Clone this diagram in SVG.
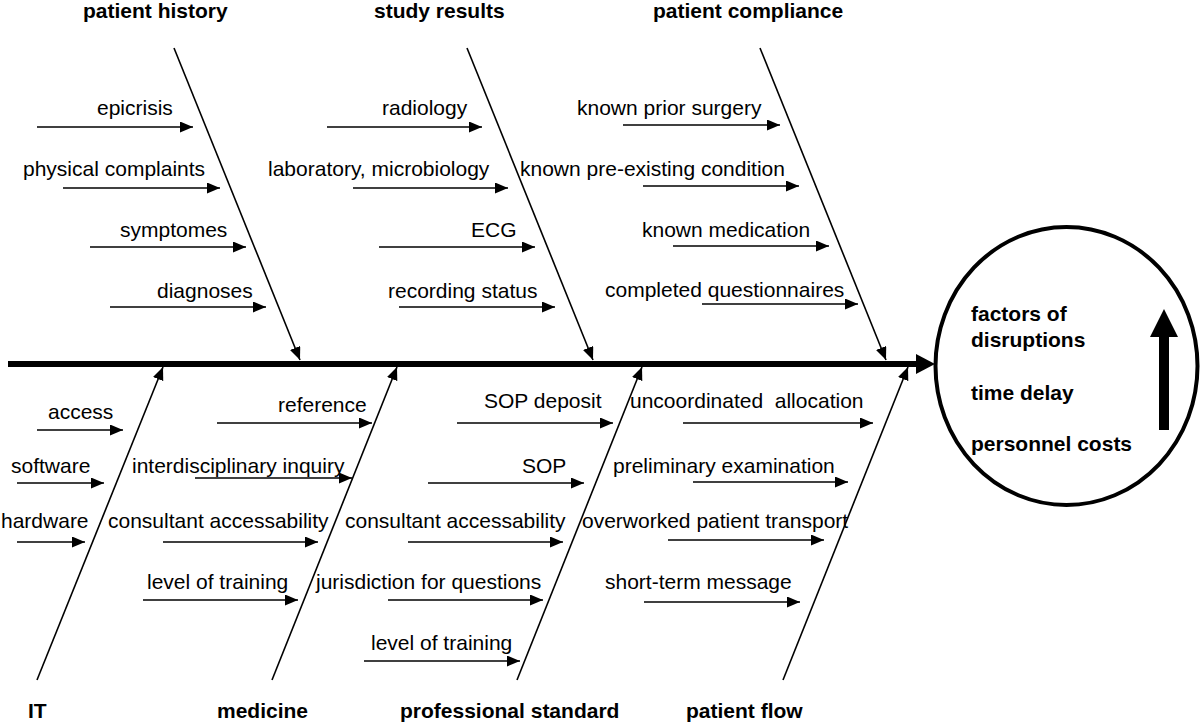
<svg xmlns="http://www.w3.org/2000/svg" width="1200" height="724" viewBox="0 0 1200 724">
<style>
  .t { font-family: "Liberation Sans", Arial, sans-serif; font-size: 21px; fill: #000; }
  .b { font-family: "Liberation Sans", Arial, sans-serif; font-size: 21px; font-weight: bold; fill: #000; }
  .ln { stroke: #000; stroke-width: 1.6; fill: none; marker-end: url(#ah); }
  .pre { white-space: pre; }
</style>
<defs>
  <marker id="ah" markerUnits="userSpaceOnUse" markerWidth="14" markerHeight="12" refX="13" refY="5.5" orient="auto">
    <path d="M0,0 L13,5.5 L0,11 z" fill="#000"/>
  </marker>
</defs>
<rect width="1200" height="724" fill="#fff"/>

<g id="connectors">
  <!-- spine -->
  <line x1="8" y1="364" x2="918" y2="364" stroke="#000" stroke-width="6"/>
  <polygon points="916,354 935,364 916,374" fill="#000"/>
  <!-- top bones -->
  <line class="ln" x1="174" y1="48" x2="300" y2="360"/>
  <line class="ln" x1="467" y1="48" x2="593" y2="360"/>
  <line class="ln" x1="760" y1="48" x2="886" y2="360"/>
  <!-- bottom bones -->
  <line class="ln" x1="37" y1="680" x2="163" y2="367"/>
  <line class="ln" x1="272" y1="680" x2="397" y2="367"/>
  <line class="ln" x1="517" y1="680" x2="642" y2="367"/>
  <line class="ln" x1="783" y1="680" x2="908" y2="367"/>
  <!-- patient history -->
  <line class="ln" x1="37" y1="127" x2="193" y2="127"/>
  <line class="ln" x1="63" y1="188" x2="220" y2="188"/>
  <line class="ln" x1="90" y1="247" x2="246" y2="247"/>
  <line class="ln" x1="110" y1="307" x2="266" y2="307"/>
  <!-- study results -->
  <line class="ln" x1="327" y1="127" x2="482" y2="127"/>
  <line class="ln" x1="353" y1="188" x2="508" y2="188"/>
  <line class="ln" x1="379" y1="247" x2="535" y2="247"/>
  <line class="ln" x1="399" y1="307" x2="555" y2="307"/>
  <!-- patient compliance -->
  <line class="ln" x1="623" y1="125" x2="780" y2="125"/>
  <line class="ln" x1="643" y1="186" x2="799" y2="186"/>
  <line class="ln" x1="673" y1="246" x2="829" y2="246"/>
  <line class="ln" x1="702" y1="304" x2="858" y2="304"/>
  <!-- IT -->
  <line class="ln" x1="37" y1="430" x2="123" y2="430"/>
  <line class="ln" x1="17" y1="483" x2="104" y2="483"/>
  <line class="ln" x1="17" y1="542" x2="85" y2="542"/>
  <!-- medicine -->
  <line class="ln" x1="217" y1="423" x2="372" y2="423"/>
  <line class="ln" x1="195" y1="478" x2="352" y2="478"/>
  <line class="ln" x1="163" y1="542" x2="318" y2="542"/>
  <line class="ln" x1="143" y1="600" x2="298" y2="600"/>
  <!-- professional standard -->
  <line class="ln" x1="457" y1="423" x2="613" y2="423"/>
  <line class="ln" x1="428" y1="483" x2="584" y2="483"/>
  <line class="ln" x1="408" y1="542" x2="563" y2="542"/>
  <line class="ln" x1="388" y1="600" x2="543" y2="600"/>
  <line class="ln" x1="364" y1="661" x2="520" y2="661"/>
  <!-- patient flow -->
  <line class="ln" x1="683" y1="423" x2="873" y2="423"/>
  <line class="ln" x1="693" y1="482" x2="848" y2="482"/>
  <line class="ln" x1="668" y1="540" x2="824" y2="540"/>
  <line class="ln" x1="644" y1="602" x2="800" y2="602"/>
</g>

<g id="patient-history">
  <text class="b" x="83" y="18">patient history</text>
  <text class="t" x="97" y="115">epicrisis</text>
  <text class="t" x="23" y="176">physical complaints</text>
  <text class="t" x="120" y="237">symptomes</text>
  <text class="t" x="157" y="298">diagnoses</text>
</g>
<g id="study-results">
  <text class="b" x="374" y="18">study results</text>
  <text class="t" x="382" y="115">radiology</text>
  <text class="t" x="268" y="176">laboratory, microbiology</text>
  <text class="t" x="471" y="237">ECG</text>
  <text class="t" x="388" y="298">recording status</text>
</g>
<g id="patient-compliance">
  <text class="b" x="653" y="18">patient compliance</text>
  <text class="t" x="577" y="115">known prior surgery</text>
  <text class="t" x="520" y="176">known pre-existing condition</text>
  <text class="t" x="642" y="237">known medication</text>
  <text class="t" x="605" y="297">completed questionnaires</text>
</g>
<g id="it">
  <text class="b" x="28" y="718">IT</text>
  <text class="t" x="48" y="419">access</text>
  <text class="t" x="11" y="473">software</text>
  <text class="t" x="1" y="528">hardware</text>
</g>
<g id="medicine">
  <text class="b" x="217" y="718">medicine</text>
  <text class="t" x="278" y="412">reference</text>
  <text class="t" x="132" y="473">interdisciplinary inquiry</text>
  <text class="t" x="108" y="528">consultant accessability</text>
  <text class="t" x="147" y="589">level of training</text>
</g>
<g id="professional-standard">
  <text class="b" x="400" y="718">professional standard</text>
  <text class="t" x="484" y="408">SOP deposit</text>
  <text class="t" x="522" y="473">SOP</text>
  <text class="t" x="345" y="528">consultant accessability</text>
  <text class="t" x="316" y="589">jurisdiction for questions</text>
  <text class="t" x="371" y="650">level of training</text>
</g>
<g id="patient-flow">
  <text class="b" x="686" y="718">patient flow</text>
  <text class="t pre" x="630" y="408" xml:space="preserve">uncoordinated  allocation</text>
  <text class="t" x="613" y="473">preliminary examination</text>
  <text class="t" x="582" y="528">overworked patient transport</text>
  <text class="t" x="605" y="589">short-term message</text>
</g>
<g id="effect">
  <ellipse cx="1066.5" cy="366" rx="131" ry="139" fill="#fff" stroke="#000" stroke-width="4"/>
  <text class="b" x="971" y="321">factors of</text>
  <text class="b" x="971" y="347">disruptions</text>
  <text class="b" x="971" y="400">time delay</text>
  <text class="b" x="971" y="451">personnel costs</text>
  <rect x="1159" y="334" width="10" height="96" fill="#000"/>
  <polygon points="1150,337 1164,309 1178,337" fill="#000"/>
</g>
</svg>
